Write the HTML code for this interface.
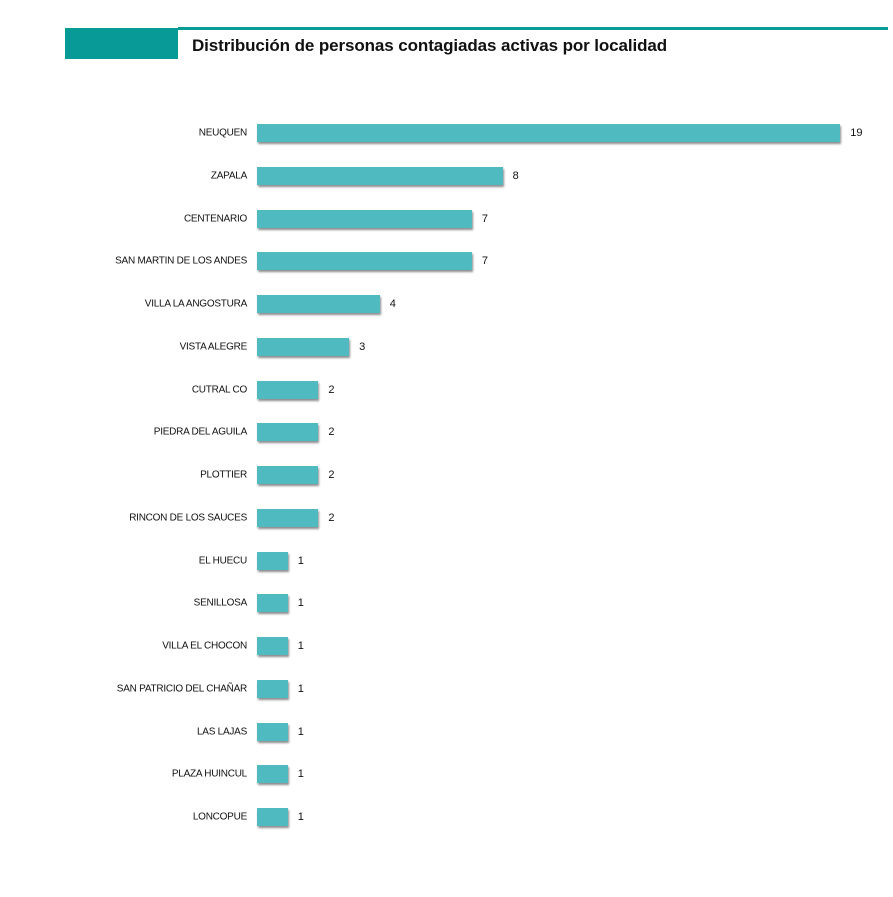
<!DOCTYPE html>
<html><head><meta charset="utf-8"><style>
body{margin:0;background:#fff;width:893px;height:897px;position:relative;overflow:hidden;font-family:"Liberation Sans",sans-serif}
.hb{position:absolute;left:65px;top:28px;width:113px;height:31px;background:#089a96}
.hl{position:absolute;left:178px;top:27px;width:710px;height:3px;background:#089a96}
.t{position:absolute;left:192px;top:36px;font-size:17px;font-weight:bold;color:#111;letter-spacing:-0.1px}
.l{position:absolute;right:646px;font-size:10px;color:#111;white-space:nowrap;transform:translateY(-50%);letter-spacing:-0.25px}
.b{position:absolute;left:257px;height:18px;background:#4fbbc1;box-shadow:1px 2px 2px rgba(0,0,0,0.45);transform:translateY(-50%)}
.v{position:absolute;font-size:11px;color:#111;transform:translateY(-50%)}
</style></head><body>
<div class="hb"></div><div class="hl"></div>
<div class="t">Distribución de personas contagiadas activas por localidad</div>
<div id="c"></div>
<script>
var d=[["NEUQUEN",19],["ZAPALA",8],["CENTENARIO",7],["SAN MARTIN DE LOS ANDES",7],["VILLA LA ANGOSTURA",4],["VISTA ALEGRE",3],["CUTRAL CO",2],["PIEDRA DEL AGUILA",2],["PLOTTIER",2],["RINCON DE LOS SAUCES",2],["EL HUECU",1],["SENILLOSA",1],["VILLA EL CHOCON",1],["SAN PATRICIO DEL CHAÑAR",1],["LAS LAJAS",1],["PLAZA HUINCUL",1],["LONCOPUE",1]];
var h="";d.forEach(function(r,i){var y=133+i*42.75,w=r[1]*30.7;
h+='<div class="l" style="top:'+y+'px">'+r[0]+'</div><div class="b" style="top:'+y+'px;width:'+w+'px"></div><div class="v" style="top:'+y+'px;left:'+(257+w+10)+'px">'+r[1]+'</div>';});
document.getElementById("c").innerHTML=h;
</script>
</body></html>
